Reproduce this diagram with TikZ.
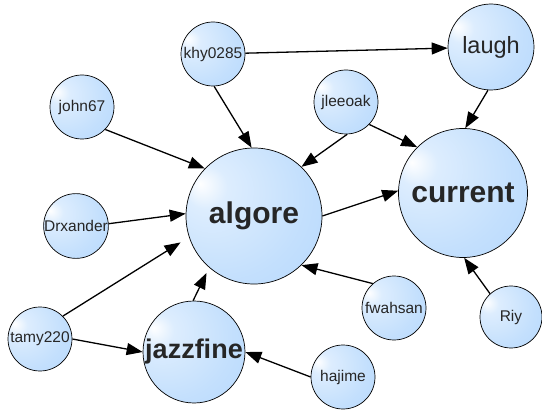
\documentclass[tikz,border=0pt]{standalone}
\usepackage{fontspec}
\setmainfont{Liberation Sans}
\usetikzlibrary{arrows.meta}

\definecolor{bubbleblue}{RGB}{170,210,252}
\pgfdeclareradialshading{bubble}{\pgfpoint{-20bp}{12bp}}{%
  color(0bp)=(white); color(8bp)=(white!60!bubbleblue);
  color(30bp)=(white!30!bubbleblue); color(60bp)=(bubbleblue); color(70bp)=(bubbleblue)}

\begin{document}
\begin{tikzpicture}[
			x=1pt, y=-1pt
			,user/.style={circle, draw, line width=0.7pt, shading=bubble, inner sep=0pt,
				minimum size=64pt, text=black!85, font=\fontsize{15.5}{16}\selectfont}
			,hub/.style={user, font=\fontsize{30}{32}\selectfont\bfseries}
			,link/.style={-{Triangle[length=16pt, width=12pt]}, line width=1.3pt}
		]
			\useasboundingbox (0,0) rectangle (542,412);

			\node [user] (khy) at (213,54) {khy0285};
			\node [user, minimum size=86pt, font=\fontsize{23.5}{24}\selectfont] (laugh) at (491,47) {laugh};
			\node [user] (john) at (82,107) {john67};
			\node [user] (jleeoak) at (346,102) {jleeoak};
			\node [hub, minimum size=136pt] (algore) at (254,216) {algore};
			\node [hub, minimum size=129pt] (current) at (463,193) {current};
			\node [user] (drx) at (76,226) {Drxander};
			\node [user] (fwahsan) at (394,308) {fwahsan};
			\node [user, minimum size=62pt] (riy) at (511,317) {Riy};
			\node [user] (tamy) at (40,339) {tamy220};
			\node [hub, minimum size=102pt, font=\fontsize{27}{28}\selectfont\bfseries] (jazz) at (194,352) {jazzfine};
			\node [user] (hajime) at (343,377) {hajime};

			% links into the hubs
			\draw [link] (khy) -- (laugh);
			\draw [link] (khy.-88) -- (algore.92);
			\draw [link] (john.-44) -- (algore.136);
			\draw [link] (drx.4) -- (algore.178);
			\draw [link, shorten >=10pt] (tamy.45) -- (algore.198);
			\draw [link] (tamy.0) -- (jazz.180);
			\draw [link, shorten >=6pt] (jazz.91) -- (algore.229);
			\draw [link] (jleeoak.-88) -- (algore.46);
			\draw [link] (jleeoak.-44) -- (current.135);
			\draw [link] (laugh.-94) -- (current.88);
			\draw [link] (algore.0) -- (current.178);
			\draw [link] (fwahsan.131) -- (algore.-46);
			\draw [link] (riy.132) -- (current.-89);
			\draw [link] (hajime.180) -- (jazz.0);
		\end{tikzpicture}
\end{document}
